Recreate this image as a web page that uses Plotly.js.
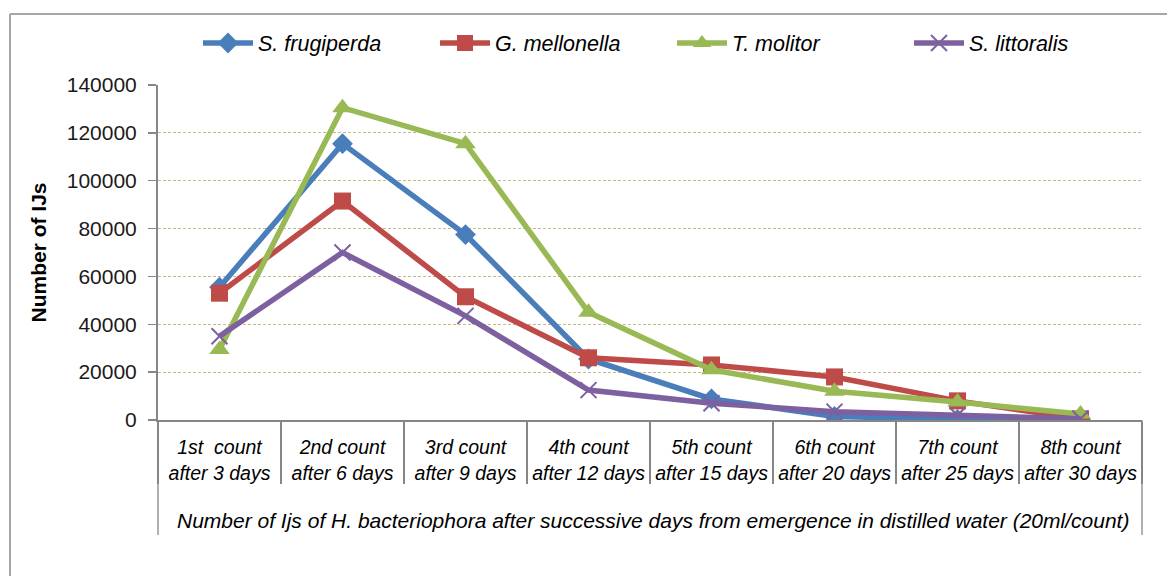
<!DOCTYPE html>
<html>
<head>
<meta charset="utf-8">
<script src="https://cdn.plot.ly/plotly-3.0.1.min.js"></script>
<style>html,body{margin:0;padding:0;background:#fff;}#chart{width:1167px;height:576px;}</style>
</head>
<body>
<div id="chart"></div>
<script>
const categories = [
  "1st  count<br>after 3 days",
  "2nd count<br>after 6 days",
  "3rd count<br>after 9 days",
  "4th count<br>after 12 days",
  "5th count<br>after 15 days",
  "6th count<br>after 20 days",
  "7th count<br>after 25 days",
  "8th count<br>after 30 days"
];
const frugiperda = [55500, 115500, 77500, 25500, 8800, 1500, 200, 300];
const mellonella = [53000, 91500, 51500, 26000, 23000, 18000, 8000, 500];
const molitor    = [29500, 130500, 115500, 45000, 21000, 12000, 7500, 2500];
const littoralis = [35000, 70000, 43500, 12500, 7000, 3500, 2000, 500];
const yTicks = [0, 20000, 40000, 60000, 80000, 100000, 120000, 140000];

const seriesNames = ["S. frugiperda", "G. mellonella", "T. molitor", "S. littoralis"];
const seriesData = [frugiperda, mellonella, molitor, littoralis];
const colors = ["#4a7ebb", "#be4b48", "#98b954", "#7d60a0"];
const symbols = ["diamond", "square", "triangle-up", "x-thin"];
const sizes = [16, 17, 18, 16];

const traces = seriesData.map((d, i) => ({
  type: "scatter",
  mode: "lines+markers",
  name: seriesNames[i],
  x: categories,
  y: d,
  line: {color: colors[i], width: 5.5},
  marker: {symbol: symbols[i], size: sizes[i], color: colors[i],
           line: {color: colors[i], width: i === 3 ? 2 : 0}}
}));

const px = v => (v - 158) / 984;
const py = v => (420 - v) / 335;
const frame = "#a6a6a6";
const F = "Liberation Sans, Arial, sans-serif";

const layout = {
  width: 1167, height: 576,
  margin: {l: 158, r: 25, t: 85, b: 156},
  paper_bgcolor: "#fff", plot_bgcolor: "#fff",
  font: {family: F, color: "#000"},
  showlegend: true,
  legend: {
    orientation: "h", x: px(198), y: py(43), xanchor: "left", yanchor: "middle",
    font: {size: 21.5, family: F, style: "italic"},
    itemwidth: 50, bgcolor: "rgba(0,0,0,0)", traceorder: "normal",
    entrywidth: 172
  },
  xaxis: {
    type: "category",
    range: [-0.5, 7.5],
    showline: true, linecolor: "#868686", linewidth: 2,
    tickson: "boundaries", ticks: "outside", ticklen: 62, tickwidth: 1.3, tickcolor: "#868686",
    tickfont: {size: 19.5, style: "italic", family: F},
    tickangle: 0,
    ticklabelstandoff: 9,
    showgrid: false, fixedrange: true
  },
  yaxis: {
    range: [0, 140000],
    tickvals: yTicks, ticktext: yTicks.map(String),
    showline: true, linecolor: "#868686", linewidth: 2,
    ticks: "outside", ticklen: 8, tickcolor: "#868686", tickwidth: 1.5,
    ticklabelstandoff: 7,
    tickfont: {size: 21, family: F, color: "#1a1a1a"},
    showgrid: true, gridcolor: "#c4bc84", griddash: "3px,2px", gridwidth: 1,
    zeroline: false,
    title: {text: "<b>Number of IJs</b>", font: {size: 21, family: F}, standoff: 14}
  },
  annotations: [{
    xref: "paper", yref: "paper", x: px(653), y: py(520), xanchor: "center", yanchor: "middle",
    showarrow: false,
    text: "Number of Ijs of H. bacteriophora after successive days from emergence in distilled water (20ml/count)",
    font: {size: 21, style: "italic", family: F}
  }],
  shapes: [
    {type: "line", xref: "paper", yref: "paper", x0: 0, x1: 0, y0: 0, y1: py(535), line: {color: "#868686", width: 1.3}},
    {type: "line", xref: "paper", yref: "paper", x0: 1, x1: 1, y0: 0, y1: py(535), line: {color: "#868686", width: 1.3}},
    {type: "line", xref: "paper", yref: "paper", x0: px(10), x1: px(1167), y0: py(14), y1: py(14), line: {color: frame, width: 2}},
    {type: "line", xref: "paper", yref: "paper", x0: px(10), x1: px(10), y0: py(14), y1: py(576), line: {color: frame, width: 2}}
  ]
};

Plotly.newPlot("chart", traces, layout, {displayModeBar: false, staticPlot: true});
</script>
</body>
</html>
